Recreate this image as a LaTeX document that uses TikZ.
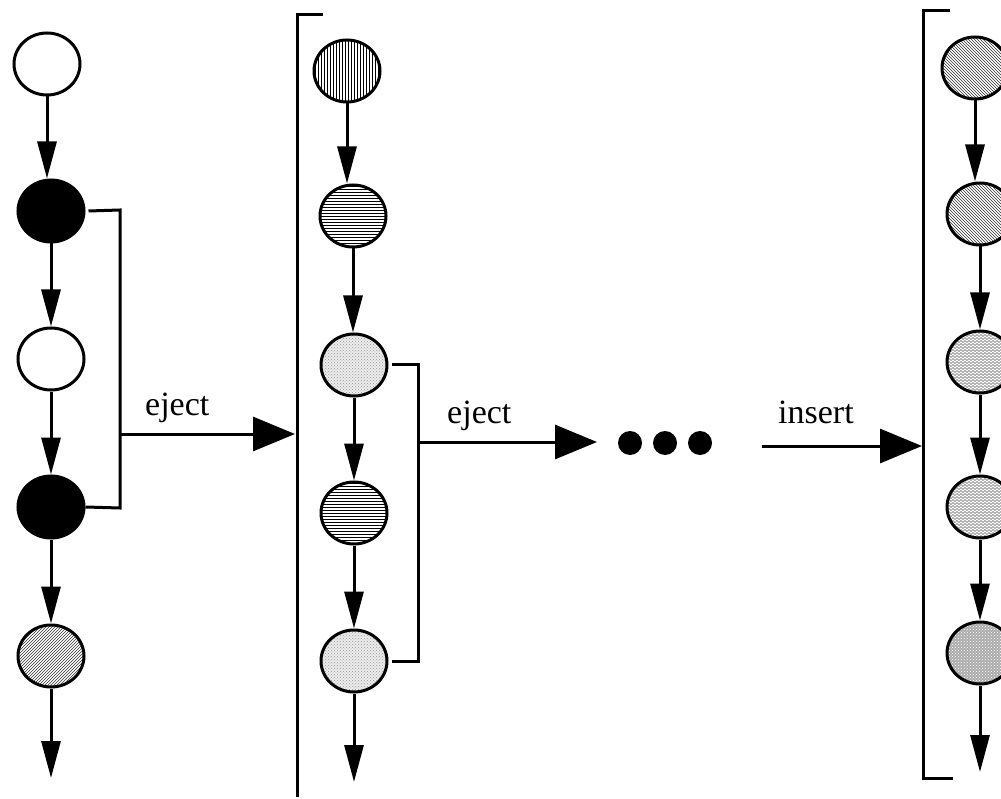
\documentclass[tikz,border=0pt]{standalone}
\usepackage{fontspec}
\setmainfont{Liberation Serif}
\usetikzlibrary{shapes.geometric,arrows.meta,patterns}
\pgfdeclarepatternformonly{wavy}{\pgfqpoint{-0.5pt}{-0.5pt}}{\pgfqpoint{4.5pt}{3.5pt}}{\pgfqpoint{4pt}{3pt}}{%
  \pgfsetlinewidth{0.6pt}%
  \pgfpathmoveto{\pgfqpoint{0pt}{1.5pt}}%
  \pgfpathcurveto{\pgfqpoint{0.6pt}{2.8pt}}{\pgfqpoint{1.4pt}{2.8pt}}{\pgfqpoint{2pt}{1.5pt}}%
  \pgfpathcurveto{\pgfqpoint{2.6pt}{0.2pt}}{\pgfqpoint{3.4pt}{0.2pt}}{\pgfqpoint{4pt}{1.5pt}}%
  \pgfusepath{stroke}}
\tikzset{
  st/.style={ellipse, draw, line width=3pt, minimum width=66pt, minimum height=62pt, inner sep=0pt},
  va/.style={line width=3pt, -{Triangle[length=37pt,width=19pt]}},
  ha/.style={line width=3pt, -{Triangle[length=42pt,width=34pt]}},
  br/.style={line width=3pt},
  lbl/.style={font=\fontsize{34}{40}\selectfont, inner sep=0pt, anchor=base west},
  dotted gray/.style={preaction={fill=gray!15}, pattern=crosshatch dots, pattern color=gray!80},
}
\begin{document}
\begin{tikzpicture}[x=1pt,y=-1pt]
\useasboundingbox (0,0) rectangle (1001,799);
% column 1
\node[st] (a1) at (47,64) {};
\node[st, fill=black] (a2) at (51,211) {};
\node[st] (a3) at (51,359) {};
\node[st, fill=black] (a4) at (51,507) {};
\node[st, pattern=north east lines, pattern color=black!80] (a5) at (51,656) {};
\coordinate (e1) at (51,778);
\draw[va] (a1.south) -- (a1.south |- a2.north);
\draw[va] (a2.south) -- (a3.north);
\draw[va] (a3.south) -- (a4.north);
\draw[va] (a4.south) -- (a5.north);
\draw[va] (a5.south) -- (e1);
\coordinate (k1) at (120,210);
\coordinate (k2) at (120,508);
\coordinate (m1) at (120,434);
\draw[br] ([xshift=3pt]a2.east) -- (k1) -- (k2) -- (a4.east);
% column 2 bracket
\coordinate (p1) at (323,15);
\coordinate (p2) at (297,15);
\coordinate (p3) at (297,797);
\draw[br] (p1) -- (p2) -- (p3);
\coordinate (t1) at (295,434);
\draw[ha] (m1) -- (t1);
\node[lbl] (l1) at (145,415) {eject};
% column 2
\node[st, pattern=vertical lines] (b1) at (347,71) {};
\node[st, pattern=horizontal lines] (b2) at (353,216) {};
\node[st, dotted gray] (b3) at (354,365) {};
\node[st, pattern=horizontal lines] (b4) at (354,513) {};
\node[st, dotted gray] (b5) at (354,661) {};
\coordinate (e2) at (354,782);
\draw[va] (b1.south) -- (b1.south |- b2.north);
\draw[va] (b2.south) -- (b2.south |- b3.north);
\draw[va] (b3.south) -- (b4.north);
\draw[va] (b4.south) -- (b5.north);
\draw[va] (b5.south) -- (e2);
\coordinate (k3) at (418,365);
\coordinate (k4) at (418,661);
\coordinate (m2) at (418,442);
\draw[br] ([xshift=3pt]b3.east) -- (k3) -- (k4) -- ([xshift=3pt]b5.east);
\coordinate (t2) at (597,442);
\draw[ha] (m2) -- (t2);
\node[lbl] (l2) at (447,423) {eject};
% dots
\fill (630,443) circle (12pt) coordinate (d1);
\fill (665,443) circle (12pt) coordinate (d2);
\fill (700,443) circle (12pt) coordinate (d3);
% insert
\coordinate (s3) at (762,446);
\coordinate (t3) at (922,446);
\draw[ha] (s3) -- (t3);
\node[lbl] (l3) at (778,423) {insert};
% column 3 bracket
\coordinate (q1) at (950,11);
\coordinate (q2) at (923,11);
\coordinate (q3) at (923,778);
\coordinate (q4) at (953,778);
\draw[br] (q1) -- (q2) -- (q3) -- (q4);
% column 3
\node[st, pattern=north west lines, pattern color=black!80] (c1) at (975,68) {};
\node[st, pattern=north west lines, pattern color=black!80] (c2) at (980,214) {};
\node[st, pattern=wavy, pattern color=black!60] (c3) at (980,362) {};
\node[st, pattern=wavy, pattern color=black!60] (c4) at (980,507) {};
\node[st, preaction={fill=gray!65}, pattern=crosshatch dots, pattern color=white] (c5) at (980,653) {};
\coordinate (e3) at (980,772);
\draw[va] (c1.south) -- (c1.south |- c2.north);
\draw[va] (c2.south) -- (c3.north);
\draw[va] (c3.south) -- (c4.north);
\draw[va] (c4.south) -- (c5.north);
\draw[va] (c5.south) -- (e3);
\end{tikzpicture}
\end{document}
